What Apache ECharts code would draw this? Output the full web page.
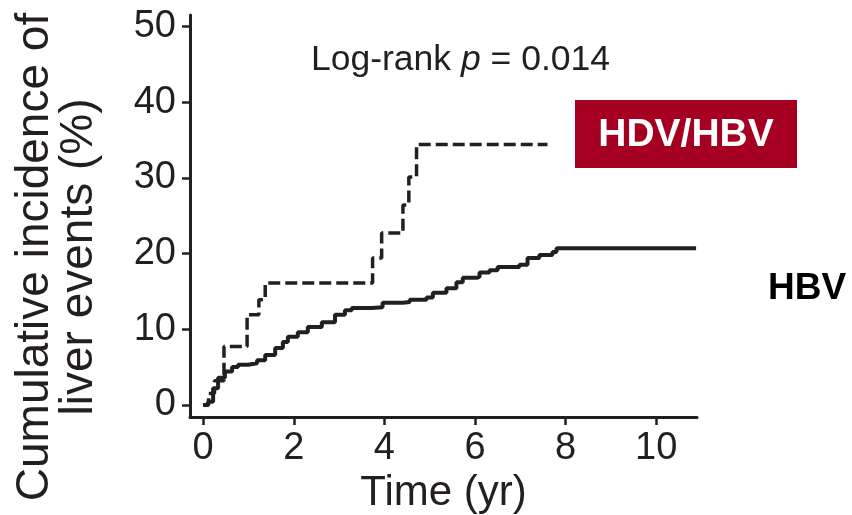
<!DOCTYPE html>
<html>
<head>
<meta charset="utf-8">
<script src="https://cdn.jsdelivr.net/npm/echarts@6/dist/echarts.min.js"></script>
<style>
  html, body { margin: 0; padding: 0; background: #fff; }
  #main { width: 852px; height: 515px; }
</style>
</head>
<body>
<div id="main"></div>
<script>
// x tick labels (years) and y tick labels (%)
const xTicks = [0, 2, 4, 6, 8, 10];
const yTicks = [0, 10, 20, 30, 40, 50];

// HBV mono-infection (solid)
const hbvTime = [0, 0.11, 0.22, 0.33, 0.48, 0.64, 0.77, 0.99, 1.19, 1.37, 1.59, 1.76, 1.87, 2.09, 2.31, 2.62, 2.91, 3.13, 3.28, 3.72, 3.96, 4.41, 4.56, 4.93, 5.07, 5.37, 5.59, 5.73, 6.04, 6.10, 6.32, 6.50, 6.98, 7.16, 7.42, 7.71, 7.80, 10.88];
const hbvCum  = [0, 0.4, 2.2, 3.6, 4.4, 5.0, 5.3, 5.5, 5.9, 6.6, 7.5, 8.3, 9.0, 9.6, 10.3, 10.9, 11.9, 12.5, 12.8, 12.9, 13.5, 13.6, 13.9, 14.2, 14.8, 15.4, 16.2, 16.8, 16.9, 17.5, 17.8, 18.2, 18.5, 19.4, 19.8, 20.2, 20.7, 20.7];

// HDV/HBV co-infection (dashed)
const hdvTime = [0, 0.12, 0.25, 0.46, 0.97, 1.23, 1.37, 3.74, 3.94, 4.41, 4.54, 4.71, 7.6];
const hdvCum  = [0, 1.5, 3.2, 7.7, 11.9, 13.9, 16.1, 19.4, 22.7, 26.4, 30.1, 34.4, 34.4];

const ink = '#231f20';
const font = 'Liberation Sans, Arial, sans-serif';

const chart = echarts.init(document.getElementById('main'));

chart.setOption({
    animation: false,
    backgroundColor: '#fff',
    grid: { left: 190, top: 15, right: 155, bottom: 98, containLabel: false, outerBoundsMode: 'none' },
    xAxis: {
        type: 'value',
        min: -0.29,
        max: 10.9,
        name: 'Time (yr)',
        nameLocation: 'middle',
        nameGap: 52,
        nameTextStyle: { fontSize: 42, color: ink, fontFamily: font },
        axisLine: { onZero: false, lineStyle: { color: ink, width: 3 } },
        axisTick: { customValues: xTicks, length: 8, lineStyle: { color: ink, width: 2.5 } },
        axisLabel: { customValues: xTicks, fontSize: 38, color: ink, fontFamily: font, margin: 13 },
        splitLine: { show: false }
    },
    yAxis: {
        type: 'value',
        min: -1.6,
        max: 51.5,
        axisLine: { onZero: false, lineStyle: { color: ink, width: 3 } },
        axisTick: { customValues: yTicks, length: 8, lineStyle: { color: ink, width: 2.5 } },
        axisLabel: { customValues: yTicks, fontSize: 38, color: ink, fontFamily: font, margin: 14 },
        splitLine: { show: false }
    },
    graphic: [
        {
            type: 'text',
            x: 57, y: 257,
            rotation: Math.PI / 2,
            style: {
                text: 'Cumulative incidence of\nliver events (%)',
                fontSize: 46, lineHeight: 44, fill: ink, fontFamily: font,
                align: 'center', verticalAlign: 'middle'
            }
        },
        {
            type: 'text',
            x: 311, y: 60,
            style: {
                text: '{a|Log-rank }{i|p}{a| = 0.014}',
                verticalAlign: 'middle',
                rich: {
                    a: { fontSize: 35.5, fill: ink, fontFamily: font },
                    i: { fontSize: 35.5, fill: ink, fontFamily: font, fontStyle: 'italic' }
                }
            }
        },
        {
            type: 'rect',
            shape: { x: 575, y: 100, width: 222, height: 68 },
            style: { fill: '#a50021' }
        },
        {
            type: 'text',
            x: 686, y: 135,
            style: {
                text: 'HDV/HBV', fontSize: 39, fontWeight: 'bold', fill: '#fff',
                fontFamily: font, align: 'center', verticalAlign: 'middle'
            }
        },
        {
            type: 'text',
            x: 768, y: 289,
            style: {
                text: 'HBV', fontSize: 37, fontWeight: 'bold', fill: '#000',
                fontFamily: font, align: 'left', verticalAlign: 'middle'
            }
        }
    ],
    series: [
        {
            name: 'HBV',
            type: 'line',
            step: 'end',
            symbol: 'none',
            lineStyle: { color: ink, width: 4 },
            data: hbvTime.map((t, i) => [t, hbvCum[i]])
        },
        {
            name: 'HDV/HBV',
            type: 'line',
            step: 'end',
            symbol: 'none',
            lineStyle: { color: ink, width: 3.5, type: [12, 5] },
            data: hdvTime.map((t, i) => [t, hdvCum[i]])
        }
    ]
});
</script>
</body>
</html>
